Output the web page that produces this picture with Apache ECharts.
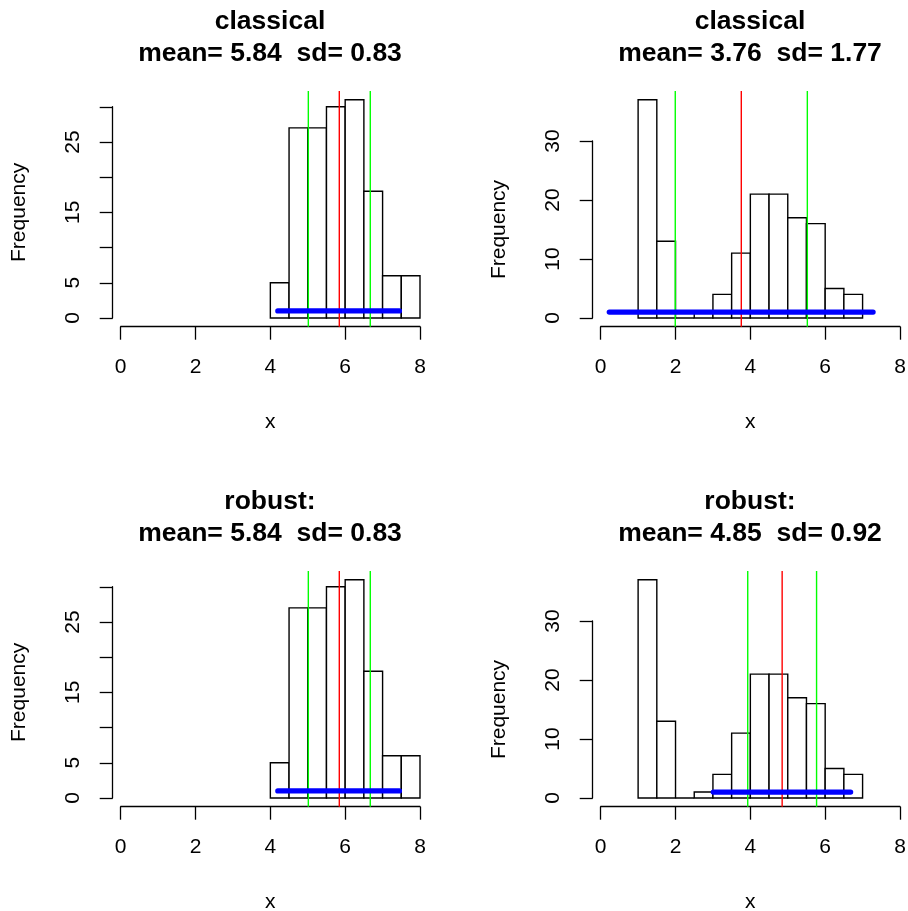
<!DOCTYPE html>
<html>
<head>
<meta charset="utf-8">
<script src="https://cdn.jsdelivr.net/npm/echarts@6/dist/echarts.min.js"></script>
<style>
html, body { margin: 0; padding: 0; background: #fff; }
#chart { width: 908px; height: 911px; }
</style>
</head>
<body>
<div id="chart"></div>
<script>
// histogram bins (left column / right column)
var breaksSepal = [4, 4.5, 5, 5.5, 6, 6.5, 7, 7.5, 8];
var countsSepal = [5, 27, 27, 30, 31, 18, 6, 6];
var breaksPetal = [1, 1.5, 2, 2.5, 3, 3.5, 4, 4.5, 5, 5.5, 6, 6.5, 7];
var countsPetal = [37, 13, 0, 1, 4, 11, 21, 21, 17, 16, 5, 4];

var xTicks = [0, 2, 4, 6, 8];
var yLabelsSepal = [0, 5, 15, 25];
var yLabelsPetal = [0, 10, 20, 30];

// panels: top-left, top-right, bottom-left, bottom-right
var panelTitles = ['classical', 'classical', 'robust:', 'robust:'];
var panelMeans = [5.84, 3.76, 5.84, 4.85];
var panelSds = [0.83, 1.77, 0.83, 0.92];
var meanLines = [5.843, 3.758, 5.843, 4.85];
var lowLines = [5.015, 1.993, 5.015, 3.93];
var highLines = [6.671, 5.523, 6.671, 5.77];
var blueFrom = [4.2, 0.23, 4.2, 3.01];
var blueTo = [7.45, 7.28, 7.45, 6.68];
var blueY = 1;

var FONT = '"Liberation Sans", Arial, Helvetica, sans-serif';

function makeBins(breaks, counts) {
    var res = [];
    for (var i = 0; i < counts.length; i++) {
        res.push([breaks[i], breaks[i + 1], counts[i]]);
    }
    return res;
}

var option = {
    animation: false,
    backgroundColor: '#fff',
    title: [],
    grid: [],
    xAxis: [],
    yAxis: [],
    series: []
};

for (let i = 0; i < 4; i++) {
    var col = i % 2, row = Math.floor(i / 2);
    var isSepal = col === 0;
    var counts = isSepal ? countsSepal : countsPetal;
    var breaks = isSepal ? breaksSepal : breaksPetal;
    var yLabels = isSepal ? yLabelsSepal : yLabelsPetal;
    var yStep = isSepal ? 5 : 10;
    var yTop = 30;
    var yMax = Math.max.apply(null, counts);

    // plot region (R style, 4% extension)
    var plotTop = 91 + row * 480, plotBottom = 326.7 + row * 480;
    var perUnit = (plotBottom - plotTop) / (1.08 * yMax);
    var y0 = plotBottom - 0.04 * yMax * perUnit;
    var x0px = 120.7 + col * 480, x8px = 420 + col * 480;
    var centerX = 270 + col * 480;

    option.title.push({
        text: panelTitles[i] + '\nmean= ' + panelMeans[i].toFixed(2) + '  sd= ' + panelSds[i].toFixed(2),
        left: centerX,
        top: 6 + row * 480,
        textAlign: 'center',
        padding: 0,
        textStyle: { fontSize: 26.5, fontWeight: 'bold', lineHeight: 32, color: '#000', fontFamily: FONT }
    });

    option.grid.push({
        left: x0px,
        width: x8px - x0px,
        top: y0 - yTop * perUnit,
        height: yTop * perUnit,
        containLabel: false,
        outerBoundsMode: 'none'
    });

    option.xAxis.push({
        gridIndex: i,
        type: 'value',
        min: xTicks[0],
        max: xTicks[xTicks.length - 1],
        interval: 2,
        offset: plotBottom - y0,
        axisLine: { show: true, onZero: false, lineStyle: { color: '#000', width: 1.3 } },
        axisTick: { show: true, length: 13, lineStyle: { color: '#000', width: 1.3 } },
        axisLabel: { show: true, color: '#000', fontSize: 21, fontFamily: FONT, margin: 30, showMinLabel: true, showMaxLabel: true },
        splitLine: { show: false },
        name: 'x',
        nameLocation: 'middle',
        nameGap: 85,
        nameTextStyle: { color: '#000', fontSize: 21, fontFamily: FONT }
    });

    option.yAxis.push({
        gridIndex: i,
        type: 'value',
        min: 0,
        max: yTop,
        interval: yStep,
        offset: x0px - (112.7 + col * 480),
        axisLine: { show: true, onZero: false, lineStyle: { color: '#000', width: 1.3 } },
        axisTick: { show: true, length: 13, lineStyle: { color: '#000', width: 1.3 } },
        axisLabel: {
            show: true, color: '#000', fontSize: 21, fontFamily: FONT, rotate: 90, margin: 29,
            showMinLabel: true, showMaxLabel: true,
            formatter: (function (labels) {
                return function (v) { return labels.indexOf(v) >= 0 ? String(v) : ''; };
            })(yLabels)
        },
        splitLine: { show: false },
        name: 'Frequency',
        nameLocation: 'middle',
        nameRotate: 90,
        nameGap: 83,
        nameTextStyle: { color: '#000', fontSize: 21, fontFamily: FONT }
    });

    // histogram bars
    option.series.push({
        type: 'custom',
        xAxisIndex: i,
        yAxisIndex: i,
        clip: false,
        silent: true,
        encode: { x: [0, 1], y: 2 },
        data: makeBins(breaks, counts),
        renderItem: function (params, api) {
            var a = api.coord([api.value(0), 0]);
            var b = api.coord([api.value(1), api.value(2)]);
            return {
                type: 'rect',
                shape: { x: a[0], y: b[1], width: b[0] - a[0], height: a[1] - b[1] },
                style: { fill: '#fff', stroke: '#000', lineWidth: 1.4 }
            };
        }
    });

    // abline(v=...) spans the whole plot region
    var yLo = -0.04 * yMax, yHi = 1.04 * yMax;
    var vlines = [[meanLines[i], '#ff0000'], [lowLines[i], '#00ff00'], [highLines[i], '#00ff00']];
    vlines.forEach(function (v) {
        option.series.push({
            type: 'line',
            xAxisIndex: i,
            yAxisIndex: i,
            clip: false,
            silent: true,
            symbol: 'none',
            lineStyle: { color: v[1], width: 1.4 },
            data: [[v[0], yLo], [v[0], yHi]]
        });
    });

    option.series.push({
        type: 'line',
        xAxisIndex: i,
        yAxisIndex: i,
        clip: false,
        silent: true,
        symbol: 'none',
        lineStyle: { color: '#0000ff', width: 5.3, cap: 'round' },
        data: [[blueFrom[i], blueY], [blueTo[i], blueY]]
    });
}

var myChart = echarts.init(document.getElementById('chart'), null, { renderer: 'canvas' });
myChart.setOption(option);
</script>
</body>
</html>
